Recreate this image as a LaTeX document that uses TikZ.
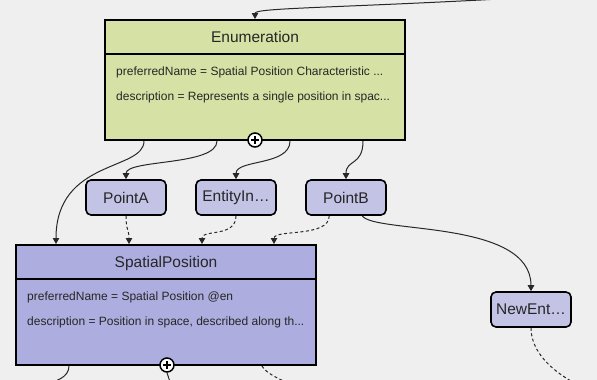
\documentclass[tikz,border=0pt]{standalone}
\usepackage{fontspec}
\setmainfont{Liberation Sans}
\usetikzlibrary{arrows.meta,calc}
\definecolor{bg}{RGB}{239,239,239}
\definecolor{enumfill}{RGB}{214,226,165}
\definecolor{smallfill}{RGB}{195,195,230}
\definecolor{spfill}{RGB}{173,173,223}
\definecolor{conn}{RGB}{40,40,40}
\tikzset{
  classbox/.style={draw=black, line width=2pt, inner sep=0pt},
  smallbox/.style={draw=black, line width=1.6pt, fill=smallfill, rounded corners=5pt,
    minimum width=80pt, minimum height=35pt, inner sep=0pt, font=\fontsize{15.5}{18}\selectfont, text=black!85},
  titletext/.style={font=\fontsize{15.5}{18}\selectfont, text=black!85, inner sep=0pt},
  attrtext/.style={font=\fontsize{12}{14}\selectfont, text=black!85, anchor=west, inner sep=0pt},
  link/.style={draw=conn, line width=1pt, -{Triangle[length=6pt,width=6.5pt]}},
  dlink/.style={link, dash pattern=on 3pt off 2.5pt},
  plusmark/.style={circle, draw=black, line width=1.5pt, fill=white, minimum size=14pt, inner sep=0pt},
}
\begin{document}
\begin{tikzpicture}[x=1pt,y=-1pt]
\useasboundingbox[fill=bg] (0,0) rectangle (597,380);
\clip (0,0) rectangle (597,380);

% Enumeration
\node[classbox, fill=enumfill, minimum width=300pt, minimum height=120pt] (enum) at (255,80) {};
\draw[line width=2pt] (105,53.5) -- (405,53.5);
\node[titletext] (enumtitle) at (255,37) {Enumeration};
\node[attrtext] (enuma1) at (116,72) {preferredName = Spatial Position Characteristic ...};
\node[attrtext] (enuma2) at (116,97) {description = Represents a single position in spac...};
\node[plusmark] (enumplus) at (255,140) {};
\draw[line width=1.5pt] (enumplus.center) ++(-4,0) -- ++(8,0);
\draw[line width=1.5pt] (enumplus.center) ++(0,-4) -- ++(0,8);

% SpatialPosition
\node[classbox, fill=spfill, minimum width=300pt, minimum height=120pt] (sp) at (166,305) {};
\draw[line width=2pt] (16,278.5) -- (316,278.5);
\node[titletext] (sptitle) at (166,263) {SpatialPosition};
\node[attrtext] (spa1) at (27,297) {preferredName = Spatial Position @en};
\node[attrtext] (spa2) at (27,322) {description = Position in space, described along th...};

% small nodes
\node[smallbox] (pa) at (126,197.5) {PointA};
\node[smallbox] (ei) at (236,197.5) {EntityIn…};
\node[smallbox] (pb) at (346,197.5) {PointB};
\node[smallbox] (ne) at (531,309.5) {NewEnt…};

% free ends
\coordinate (topin) at (500,-1);
\coordinate (spout1) at (45,385);
\coordinate (spout2) at (171,385);
\coordinate (spout3) at (292,385);
\coordinate (neout) at (578,385);

% connectors
\draw[link] (topin) .. controls (330,8) and (255,8) .. (enum.north);
\draw[link] ($(enum.south west)+(40,0)$) .. controls +(0,30) and +(0,-85) .. ($(sp.north west)+(41,0)$);
\draw[link] ($(enum.south west)+(113,0)$) .. controls +(0,25) and +(0,-20) .. (pa.north);
\draw[link] ($(enum.south west)+(186,0)$) .. controls +(0,25) and +(0,-20) .. (ei.north);
\draw[link] ($(enum.south west)+(259,0)$) .. controls +(0,25) and +(0,-20) .. (pb.north);

\draw[dlink] (pa.south) .. controls +(0,15) and +(0,-15) .. ($(sp.north west)+(114,0)$);
\draw[dlink] (ei.south) .. controls +(0,22) and +(0,-15) .. ($(sp.north west)+(187,0)$);
\draw[dlink] ($(pb.south west)+(24,0)$) .. controls +(0,22) and +(0,-15) .. ($(sp.north west)+(259,0)$);

\draw[link] ($(pb.south west)+(57,0)$) .. controls +(12,18) and +(0,-72) .. (ne.north);

% bottom edges leaving the picture
\draw[draw=conn, line width=1pt] ($(sp.south west)+(54,0)$) .. controls +(0,12) and +(10,-4) .. (spout1);
\node[plusmark] (spplus) at (167,365) {};
\draw[line width=1.5pt] (spplus.center) ++(-4,0) -- ++(8,0);
\draw[line width=1.5pt] (spplus.center) ++(0,-4) -- ++(0,8);
\draw[draw=conn, line width=1pt] (spplus.south) -- (spout2);
\draw[draw=conn, line width=1pt, dash pattern=on 3pt off 2.5pt] ($(sp.south west)+(247,0)$) .. controls +(4,8) and +(-8,-4) .. (spout3);
\draw[draw=conn, line width=1pt, dash pattern=on 3pt off 2.5pt] (ne.south) .. controls +(0,30) and +(-15,-8) .. (neout);
\end{tikzpicture}
\end{document}
